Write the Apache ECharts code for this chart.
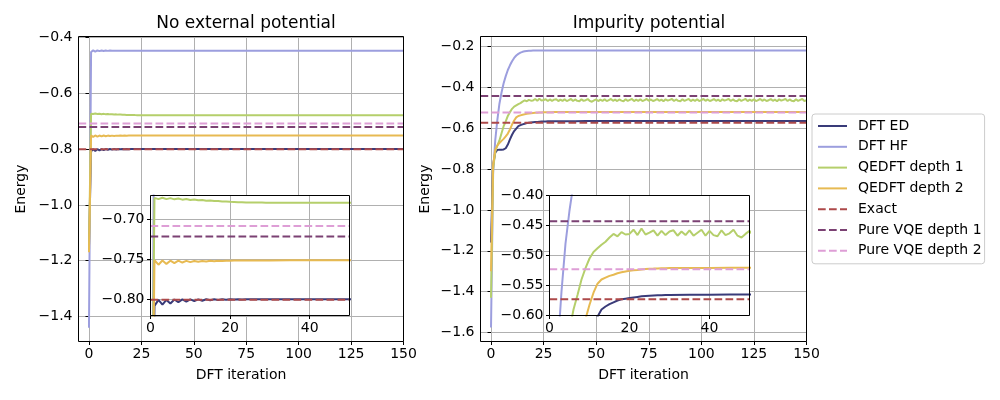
<!DOCTYPE html>
<html lang="en">
<head>
<meta charset="UTF-8">
<title>DFT iteration energies</title>
<script src="https://cdn.jsdelivr.net/npm/echarts@6/dist/echarts.min.js"></script>
<style>
  html, body { margin: 0; padding: 0; background: #fff; }
  #chart { width: 1000px; height: 400px; }
</style>
</head>
<body>
<div id="chart"></div>
<script>
// sampled iterations for the curves (flat after 30)
var iters = [0, 1, 2, 3, 4, 5, 6, 7, 8, 9, 10, 11, 12, 13, 14, 15, 16, 17, 18, 19, 20,
             21, 22, 23, 24, 25, 26, 27, 28, 29, 30, 35, 40, 45, 50, 150];

// ---- No external potential ----
var edLeft = [-1.15, -0.808, -0.8005, -0.8065, -0.8005, -0.805, -0.8000, -0.8035, -0.7999, -0.8025, -0.7998,
              -0.8020, -0.7998, -0.8015, -0.7997, -0.8010, -0.7997, -0.8006, -0.7996, -0.8003, -0.7996,
              -0.8001, -0.7996, -0.7999, -0.7996, -0.7997, -0.7996, -0.7996, -0.7996, -0.7996, -0.7996,
              -0.7996, -0.7996, -0.7996, -0.7996, -0.7996];
var hfLeft = [-1.44, -0.452, -0.4462, -0.4505, -0.4465, -0.449, -0.4468, -0.4485, -0.4470, -0.4480, -0.4471,
              -0.4478, -0.4472, -0.4476, -0.4473, -0.4475, -0.4474, -0.4474, -0.4474, -0.4474, -0.4474,
              -0.4474, -0.4474, -0.4474, -0.4474, -0.4474, -0.4474, -0.4474, -0.4474, -0.4474, -0.4474,
              -0.4474, -0.4474, -0.4474, -0.4474, -0.4474];
var qe1Left = [-1.16, -0.6730, -0.6745, -0.6728, -0.6745, -0.6733, -0.6748, -0.6738, -0.6752, -0.6743, -0.6756,
               -0.6749, -0.6760, -0.6756, -0.6765, -0.6763, -0.6770, -0.6769, -0.6775, -0.6775, -0.6779,
               -0.6780, -0.6783, -0.6784, -0.6786, -0.6787, -0.6788, -0.6789, -0.6789, -0.6790, -0.6790,
               -0.6790, -0.6791, -0.6791, -0.6791, -0.6791];
var qe2Left = [-1.17, -0.7508, -0.7565, -0.7512, -0.7555, -0.7515, -0.7545, -0.7515, -0.7538, -0.7517, -0.7533,
               -0.7518, -0.7528, -0.7518, -0.7525, -0.7517, -0.7522, -0.7516, -0.7519, -0.7515, -0.7516,
               -0.7514, -0.7514, -0.7513, -0.7513, -0.7512, -0.7512, -0.7512, -0.7511, -0.7511, -0.7511,
               -0.7510, -0.7510, -0.7510, -0.7510, -0.7510];
var exactLeft = -0.8004;
var vqe1Left = -0.7213;
var vqe2Left = -0.7080;

// ---- Impurity potential ----
var edRight = [-1.16, -0.78, -0.72, -0.706, -0.705, -0.705, -0.704, -0.698, -0.680, -0.655, -0.632,
               -0.614, -0.602, -0.590, -0.585, -0.581, -0.578, -0.575, -0.573, -0.572, -0.571,
               -0.570, -0.569, -0.568, -0.5675, -0.567, -0.5667, -0.5664, -0.5662, -0.5660, -0.5658,
               -0.5655, -0.5655, -0.5652, -0.5652, -0.5650];
var hfRight = [-1.576, -0.82, -0.66, -0.56, -0.48, -0.425, -0.380, -0.345, -0.315, -0.292, -0.272,
               -0.256, -0.244, -0.236, -0.230, -0.226, -0.2235, -0.222, -0.221, -0.2203, -0.2200,
               -0.2198, -0.2197, -0.2196, -0.2196, -0.2195, -0.2195, -0.2195, -0.2195, -0.2195, -0.2195,
               -0.2195, -0.2195, -0.2195, -0.2195, -0.2195];
var qe2Right = [-1.30, -0.78, -0.705, -0.685, -0.672, -0.662, -0.652, -0.640, -0.626, -0.606, -0.582,
                -0.562, -0.547, -0.540, -0.537, -0.534, -0.532, -0.5295, -0.528, -0.5265, -0.5255,
                -0.5245, -0.5240, -0.5232, -0.5225, -0.5220, -0.5218, -0.5215, -0.5213, -0.5212, -0.5210,
                -0.5208, -0.5207, -0.5206, -0.5206, -0.5205];
// QEDFT depth 1 keeps oscillating, so it is read at every iteration 0..150
var qe1Right = [-1.43, -0.80, -0.715, -0.685, -0.660, -0.625, -0.590, -0.566, -0.540, -0.521, -0.505,
                -0.494, -0.488, -0.482, -0.477, -0.470, -0.464, -0.468, -0.461, -0.465, -0.464,
                -0.457, -0.466, -0.455, -0.465, -0.462, -0.458, -0.467, -0.459, -0.466, -0.460,
                -0.458, -0.467, -0.460, -0.466, -0.458, -0.467, -0.462, -0.457, -0.467, -0.459,
                -0.466, -0.468, -0.458, -0.466, -0.463, -0.457, -0.467, -0.470, -0.464, -0.459,
                -0.467, -0.460, -0.466, -0.458, -0.467, -0.462, -0.457, -0.466, -0.460, -0.467,
                -0.459, -0.465, -0.468, -0.458, -0.466, -0.461, -0.457, -0.467, -0.460, -0.466,
                -0.458, -0.467, -0.462, -0.457, -0.466, -0.459, -0.467, -0.463, -0.457, -0.466,
                -0.460, -0.468, -0.458, -0.465, -0.461, -0.457, -0.467, -0.459, -0.466, -0.468,
                -0.458, -0.466, -0.461, -0.457, -0.467, -0.460, -0.466, -0.458, -0.467, -0.462,
                -0.457, -0.466, -0.459, -0.467, -0.463, -0.457, -0.466, -0.460, -0.468, -0.458,
                -0.465, -0.461, -0.457, -0.467, -0.459, -0.466, -0.468, -0.458, -0.466, -0.461,
                -0.457, -0.467, -0.460, -0.466, -0.458, -0.467, -0.462, -0.457, -0.466, -0.459,
                -0.467, -0.463, -0.457, -0.466, -0.460, -0.468, -0.458, -0.465, -0.461, -0.457,
                -0.467, -0.459, -0.466, -0.468, -0.458, -0.466, -0.461, -0.457, -0.467, -0.462];
var exactRight = -0.5728;
var vqe1Right = -0.4428;
var vqe2Right = -0.5230;

// tick labels
var mainXTicks = [0, 25, 50, 75, 100, 125, 150];
var insetXTicks = [0, 20, 40];
var leftYTicks = [-1.4, -1.2, -1.0, -0.8, -0.6, -0.4];
var rightYTicks = [-1.6, -1.4, -1.2, -1.0, -0.8, -0.6, -0.4, -0.2];
var leftInsetYTicks = [-0.80, -0.75, -0.70];
var rightInsetYTicks = [-0.60, -0.55, -0.50, -0.45, -0.40];

var names = ['DFT ED', 'DFT HF', 'QEDFT depth 1', 'QEDFT depth 2', 'Exact', 'Pure VQE depth 1', 'Pure VQE depth 2'];
var colors = ['#393b79', '#9c9ede', '#b5cf6b', '#e7ba52', '#ad494a', '#7b4173', '#de9ed6'];

var FONT = 'DejaVu Sans';
var fullIters = [];
for (var k = 0; k <= 150; k++) fullIters.push(k);

function pairs(xs, ys) {
    return xs.map(function (x, i) { return [x, ys[i]]; });
}
function minus(s) { return s.replace('-', '\u2212'); }

// axis ranges: [xmin, xmax, ymin, ymax]
var ranges = [
    [-5, 150, -1.4897, -0.3965],
    [0, 50, -0.82, -0.67],
    [-5, 150, -1.644, -0.151],
    [0, 50, -0.60, -0.40]
];
var xTicks = [mainXTicks, insetXTicks, mainXTicks, insetXTicks];
var yTicks = [leftYTicks, leftInsetYTicks, rightYTicks, rightInsetYTicks];
var yDigits = [1, 2, 1, 2];

var boxes = [
    { left: 78.5, top: 36.5, width: 325, height: 305 },
    { left: 150.5, top: 195.5, width: 199, height: 120 },
    { left: 480.5, top: 36.5, width: 326, height: 305 },
    { left: 549.5, top: 195.5, width: 200, height: 120 }
];

// frames sit above the lines, like matplotlib spines
var grids = boxes.map(function (b, i) {
    return Object.assign({}, b, {
        show: true, borderColor: '#000', borderWidth: 1,
        backgroundColor: 'transparent', zlevel: i % 2 ? 1 : 0, z: 10,
        outerBoundsMode: 'none', containLabel: false
    });
});

// white backing for the insets so the big panels do not show through
var insetBacks = [boxes[1], boxes[3]].map(function (b) {
    return {
        type: 'rect', zlevel: 1, z: -1, silent: true,
        shape: { x: b.left, y: b.top, width: b.width, height: b.height },
        style: { fill: '#fff' }
    };
});

var xAxes = [], yAxes = [];
ranges.forEach(function (r, i) {
    var inset = i % 2 === 1;
    var common = {
        type: 'value', gridIndex: i, zlevel: inset ? 1 : 0,
        axisLine: { show: false },
        splitLine: { show: true, lineStyle: { color: '#b0b0b0', width: 1 } }
    };
    xAxes.push(Object.assign({}, common, {
        min: r[0], max: r[1],
        axisTick: { show: true, length: 3.5, lineStyle: { color: '#000' }, customValues: xTicks[i] },
        axisLabel: {
            customValues: xTicks[i], margin: 6, color: '#000', fontSize: 14, fontFamily: FONT,
            formatter: function (v) { return minus(String(v)); }
        },
        name: inset ? '' : 'DFT iteration', nameLocation: 'middle', nameGap: 27,
        nameTextStyle: { color: '#000', fontSize: 14, fontFamily: FONT }
    }));
    yAxes.push(Object.assign({}, common, {
        min: r[2], max: r[3],
        axisTick: { show: true, length: 3.5, lineStyle: { color: '#000' }, customValues: yTicks[i] },
        axisLabel: {
            customValues: yTicks[i], margin: 6, color: '#000', fontSize: 14, fontFamily: FONT,
            formatter: function (v) { return minus(v.toFixed(yDigits[i])); }
        },
        name: inset ? '' : 'Energy', nameLocation: 'middle', nameGap: i === 0 ? 50 : 48,
        nameRotate: 90,
        nameTextStyle: { color: '#000', fontSize: 14, fontFamily: FONT }
    }));
});

var panels = [
    { curves: [edLeft, hfLeft, qe1Left, qe2Left], xs: [iters, iters, iters, iters],
      levels: [exactLeft, vqe1Left, vqe2Left] },
    { curves: [edRight, hfRight, qe1Right, qe2Right], xs: [iters, iters, fullIters, iters],
      levels: [exactRight, vqe1Right, vqe2Right] }
];

var series = [];
panels.forEach(function (p, pi) {
    [pi * 2, pi * 2 + 1].forEach(function (gi) {
        var inset = gi % 2 === 1;
        var r = ranges[gi];
        var all = p.curves.map(function (c, ci) { return pairs(p.xs[ci], c); })
            .concat(p.levels.map(function (v) { return [[r[0], v], [r[1], v]]; }));
        all.forEach(function (data, si) {
            var dashed = si >= 4;
            series.push({
                name: names[si], type: 'line',
                xAxisIndex: gi, yAxisIndex: gi, zlevel: inset ? 1 : 0,
                data: data, symbol: 'none', showSymbol: false, clip: true,
                animation: false, emphasis: { disabled: true },
                itemStyle: { color: colors[si] },
                lineStyle: { color: colors[si], width: 2, type: dashed ? [7.7, 3.3] : 'solid' }
            });
        });
    });
});

var chart = echarts.init(document.getElementById('chart'));
chart.setOption({
    backgroundColor: '#fff',
    animation: false,
    title: [
        { text: 'No external potential', left: 241, top: 10, textAlign: 'center',
          textStyle: { fontFamily: FONT, fontSize: 17, fontWeight: 'normal', color: '#000' } },
        { text: 'Impurity potential', left: 644, top: 10, textAlign: 'center',
          textStyle: { fontFamily: FONT, fontSize: 17, fontWeight: 'normal', color: '#000' } }
    ],
    legend: {
        data: names, orient: 'vertical', left: 812, top: 114,
        itemWidth: 29, itemHeight: 14, itemGap: 6.8,
        padding: [5, 3, 6, 5],
        borderColor: '#cccccc', borderWidth: 1, borderRadius: 3, backgroundColor: '#fff',
        selectedMode: false,
        itemStyle: { opacity: 0 },
        textStyle: { color: '#000', fontSize: 14, fontFamily: FONT, padding: [0, 0, 0, 6] }
    },
    graphic: insetBacks,
    grid: grids,
    xAxis: xAxes,
    yAxis: yAxes,
    series: series
});
</script>
</body>
</html>
